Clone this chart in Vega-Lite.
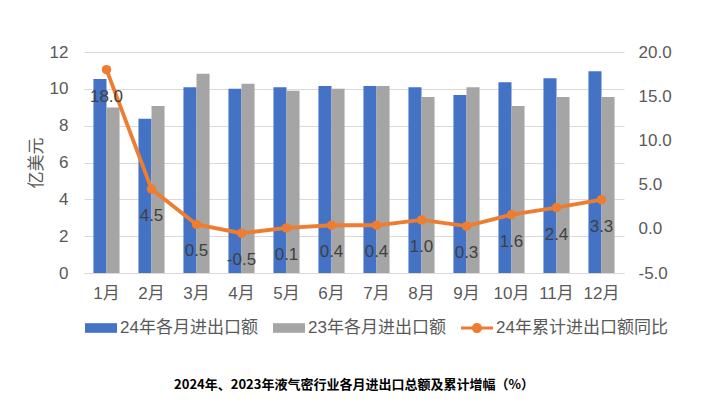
{
  "$schema": "https://vega.github.io/schema/vega-lite/v6.json",
  "width": 540,
  "height": 221,
  "autosize": {"type": "none"},
  "padding": {"left": 84, "top": 52, "right": 83, "bottom": 131},
  "background": "white",
  "title": {
    "text": "2024年、2023年液气密行业各月进出口总额及累计增幅（%）",
    "orient": "bottom",
    "anchor": "middle",
    "frame": "group",
    "offset": 43,
    "fontSize": 13,
    "fontWeight": "bold",
    "color": "#000000",
    "font": "Noto Sans CJK SC"
  },
  "data": {
    "values": [
      {"month": "1月", "24年各月进出口额": 10.53, "23年各月进出口额": 8.98, "yoy": 18.0},
      {"month": "2月", "24年各月进出口额": 8.38, "23年各月进出口额": 9.07, "yoy": 4.5},
      {"month": "3月", "24年各月进出口额": 10.09, "23年各月进出口额": 10.82, "yoy": 0.5},
      {"month": "4月", "24年各月进出口额": 10.0, "23年各月进出口额": 10.27, "yoy": -0.5},
      {"month": "5月", "24年各月进出口额": 10.09, "23年各月进出口额": 9.89, "yoy": 0.1},
      {"month": "6月", "24年各月进出口额": 10.16, "23年各月进出口额": 10.0, "yoy": 0.4},
      {"month": "7月", "24年各月进出口额": 10.16, "23年各月进出口额": 10.16, "yoy": 0.4},
      {"month": "8月", "24年各月进出口额": 10.09, "23年各月进出口额": 9.56, "yoy": 1.0},
      {"month": "9月", "24年各月进出口额": 9.67, "23年各月进出口额": 10.09, "yoy": 0.3},
      {"month": "10月", "24年各月进出口额": 10.36, "23年各月进出口额": 9.07, "yoy": 1.6},
      {"month": "11月", "24年各月进出口额": 10.58, "23年各月进出口额": 9.56, "yoy": 2.4},
      {"month": "12月", "24年各月进出口额": 10.96, "23年各月进出口额": 9.56, "yoy": 3.3}
    ]
  },
  "encoding": {
    "x": {
      "field": "month",
      "type": "nominal",
      "sort": null,
      "scale": {"paddingInner": 0.42, "paddingOuter": 0.21},
      "axis": {
        "title": null,
        "labelAngle": 0,
        "labelFontSize": 17,
        "labelColor": "#595959",
        "labelPadding": 12,
        "ticks": false,
        "domainColor": "#d9d9d9",
        "domainWidth": 1
      }
    }
  },
  "layer": [
    {
      "transform": [
        {"fold": ["24年各月进出口额", "23年各月进出口额"], "as": ["series", "value"]}
      ],
      "mark": {"type": "bar"},
      "encoding": {
        "xOffset": {"field": "series", "type": "nominal", "sort": ["24年各月进出口额", "23年各月进出口额"], "scale": {"paddingInner": 0, "paddingOuter": 0}},
        "y": {
          "field": "value",
          "type": "quantitative",
          "scale": {"domain": [0, 12], "nice": false},
          "axis": {
            "title": "亿美元",
            "titleFontSize": 17,
            "titleFontWeight": "normal",
            "titleColor": "#595959",
            "titlePadding": 4,
            "values": [0, 2, 4, 6, 8, 10, 12],
            "labelFontSize": 17,
            "labelColor": "#595959",
            "labelPadding": 16,
            "ticks": false,
            "domain": false,
            "grid": true,
            "gridColor": "#d9d9d9",
            "gridWidth": 1
          }
        },
        "color": {
          "field": "series",
          "type": "nominal",
          "scale": {
            "domain": ["24年各月进出口额", "23年各月进出口额", "24年累计进出口额同比"],
            "range": ["#4472C4", "#A5A5A5", "#ED7D31"]
          },
          "legend": {
            "title": null,
            "orient": "none",
            "legendX": 1,
            "legendY": 260,
            "direction": "horizontal",
            "columns": 3,
            "columnPadding": 15,
            "labelFontSize": 17,
            "labelColor": "#595959",
            "labelOffset": 3,
            "symbolSize": 1024,
            "labelLimit": 300,
            "encode": {
              "symbols": {
                "update": {
                  "shape": {"signal": "datum.value === '24年累计进出口额同比' ? 'M-1,-0.1H1V0.1H-1Z M-0.32,0 A0.32,0.32 0 1,1 0.32,0 A0.32,0.32 0 1,1 -0.32,0Z' : 'M-1,-0.3H1V0.3H-1Z'"},
                  "fill": {"signal": "scale('color', datum.value)"},
                  "fillOpacity": {"value": 1},
                  "strokeWidth": {"value": 0}
                }
              }
            }
          }
        }
      }
    },
    {
      "mark": {"type": "line", "strokeWidth": 3.8, "color": "#ED7D31", "point": {"filled": true, "size": 90, "color": "#ED7D31"}},
      "encoding": {
        "y": {
          "field": "yoy",
          "type": "quantitative",
          "scale": {"domain": [-5, 20], "nice": false},
          "axis": {
            "orient": "right",
            "title": null,
            "values": [-5, 0, 5, 10, 15, 20],
            "format": ".1f",
            "labelFontSize": 17,
            "labelColor": "#595959",
            "labelPadding": 14,
            "ticks": false,
            "domain": false,
            "grid": false
          }
        },
        "color": {"datum": "24年累计进出口额同比"}
      }
    },
    {
      "mark": {"type": "text", "dy": 27, "fontSize": 17, "color": "#404040", "baseline": "middle"},
      "encoding": {
        "y": {"field": "yoy", "type": "quantitative", "scale": {"domain": [-5, 20], "nice": false}, "axis": null},
        "text": {"field": "yoy", "type": "quantitative", "format": ".1f"}
      }
    }
  ],
  "resolve": {"scale": {"y": "independent"}},
  "config": {
    "locale": {"number": {"decimal": ".", "thousands": ",", "grouping": [3], "currency": ["$", ""], "minus": "-"}},
    "view": {"stroke": null},
    "font": "Liberation Sans, Noto Sans CJK SC",
    "axis": {"labelFont": "Liberation Sans, Noto Sans CJK SC", "titleFont": "Noto Sans CJK SC"},
    "legend": {"labelFont": "Liberation Sans, Noto Sans CJK SC"}
  }
}
